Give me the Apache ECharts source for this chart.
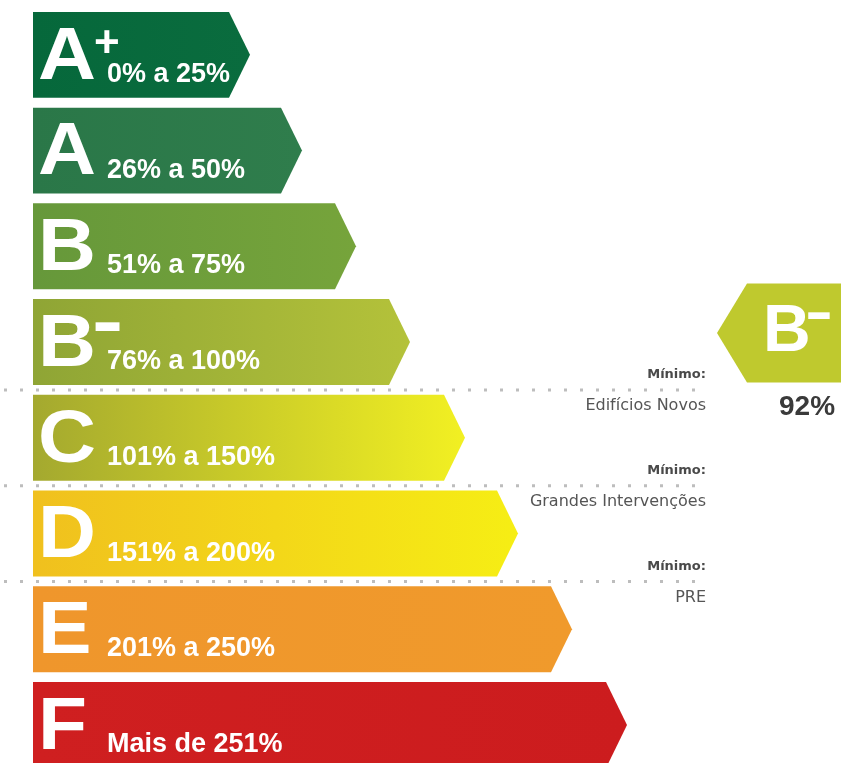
<!DOCTYPE html>
<html>
<head>
<meta charset="utf-8">
<script src="https://cdn.jsdelivr.net/npm/echarts@6/dist/echarts.min.js"></script>
<style>html,body{margin:0;padding:0;background:#fff;}#c{width:841px;height:763px;}</style>
</head>
<body>
<div id="c"></div>
<script>
// ---- data ----
const ratings = ['A+', 'A', 'B', 'B-', 'C', 'D', 'E', 'F'];
const ranges = ['0% a 25%', '26% a 50%', '51% a 75%', '76% a 100%', '101% a 150%', '151% a 200%', '201% a 250%', 'Mais de 251%'];
const barLength = [217, 269, 323, 377, 432, 485, 539, 594];
const minimumRatings = ['B-', 'C', 'D'];
const minimumTitles = ['Mínimo:', 'Mínimo:', 'Mínimo:'];
const minimumNames = ['Edifícios Novos', 'Grandes Intervenções', 'PRE'];
const resultRating = 'B-';
const resultValue = 92;

// ---- styles ----
const barColors = [
  ['#06683b', '#0a6c3e'],
  ['#2a7748', '#2f7d4c'],
  ['#66983a', '#76a43b'],
  ['#8fa535', '#b4c23a'],
  ['#a4a92f', '#f2f022'],
  ['#f0c01e', '#f6ee14'],
  ['#ef962c', '#f09a2c'],
  ['#cf1f20', '#cc1c1e']
];
const FONT = '"Liberation Sans", Arial, sans-serif';
const FONT2 = '"DejaVu Sans", sans-serif';
const BAR_START = 33;
const TIP = 21;

const chart = echarts.init(document.getElementById('c'), null, {renderer: 'canvas'});

function renderBar(params, api) {
  const ci = api.value(0);
  const len = api.value(1);
  const i = params.dataIndex;
  const cy = api.coord([0, ci])[1];
  const band = Math.abs(api.size([0, 1])[1]);
  const h = band * 0.898;
  const x0 = api.coord([BAR_START, ci])[0];
  const xt = api.coord([BAR_START + len, ci])[0];
  const top = cy - h / 2, bot = cy + h / 2;
  const r = ratings[i];
  const base = r.replace(/[+-]/, '');
  const sup = r.length > 1 ? r.slice(1) : '';
  const children = [{
    type: 'polygon',
    shape: {points: [[x0, top], [xt - TIP, top], [xt, cy], [xt - TIP, bot], [x0, bot]]},
    style: {fill: new echarts.graphic.LinearGradient(0, 0, 1, 0, [
      {offset: 0, color: barColors[i][0]}, {offset: 1, color: barColors[i][1]}])}
  }, {
    type: 'text', x: x0 + 5, y: top + 46, scaleX: 1.07, originX: 0, originY: 0,
    style: {text: base, x: 0, y: 0, fill: '#fff', font: 'bold 75px ' + FONT, verticalAlign: 'middle', align: 'left'}
  }, {
    type: 'text',
    style: {text: ranges[i], x: x0 + 74, y: top + 62.5, fill: '#fff', font: 'bold 27px ' + FONT, verticalAlign: 'middle', align: 'left'}
  }];
  if (sup === '+') {
    children.push({type: 'text', style: {text: '+', x: x0 + 61, y: top + 33, fill: '#fff', font: 'bold 44px ' + FONT, verticalAlign: 'middle', align: 'left'}});
  } else if (sup === '-') {
    children.push({type: 'text', x: x0 + 59, y: top + 26, scaleX: 1.3, originX: 0, originY: 0,
      style: {text: '-', x: 0, y: 0, fill: '#fff', font: 'bold 72px ' + FONT, verticalAlign: 'middle', align: 'left'}});
  }
  return {type: 'group', children: children};
}

function renderMinimum(params, api) {
  const ci = api.value(0);
  const i = params.dataIndex;
  const cy = api.coord([0, ci])[1];
  const band = Math.abs(api.size([0, 1])[1]);
  const ly = cy + band / 2;
  const xEnd = api.coord([706, ci])[0];
  const xBeg = api.coord([0, ci])[0];
  return {type: 'group', children: [{
    type: 'line',
    shape: {x1: xBeg + 4, y1: ly, x2: xEnd, y2: ly},
    style: {stroke: '#bdbdbd', lineWidth: 3, lineDash: [3, 13]}
  }, {
    type: 'text',
    style: {text: minimumTitles[i], x: xEnd, y: ly - 15, fill: '#4a4a4a', font: 'bold 13px ' + FONT2, align: 'right', verticalAlign: 'middle'}
  }, {
    type: 'text',
    style: {text: minimumNames[i], x: xEnd, y: ly + 16, fill: '#555', font: '16px ' + FONT2, align: 'right', verticalAlign: 'middle'}
  }]};
}

function renderResult(params, api) {
  const ci = api.value(0);
  const val = api.value(1);
  const cy = api.coord([0, ci])[1] - 9;
  const xt = api.coord([717, ci])[0];
  const h = 99;
  const r = resultRating;
  return {type: 'group', children: [{
    type: 'polygon',
    shape: {points: [[xt, cy], [xt + 30, cy - h / 2], [xt + 140, cy - h / 2], [xt + 140, cy + h / 2], [xt + 30, cy + h / 2]]},
    style: {fill: '#bfc92e'}
  }, {
    type: 'text',
    style: {text: r.replace(/[+-]/, ''), x: xt + 46, y: cy, fill: '#fff', font: 'bold 66px ' + FONT, align: 'left', verticalAlign: 'middle'}
  }, {
    type: 'text', x: xt + 88, y: cy - 19, scaleX: 1.5, originX: 0, originY: 0,
    style: {text: '-', x: 0, y: 0, fill: '#fff', font: 'bold 56px ' + FONT, align: 'left', verticalAlign: 'middle'}
  }, {
    type: 'text',
    style: {text: val + '%', x: xt + 62, y: cy + 74, fill: '#3a3a3a', font: 'bold 28px ' + FONT, align: 'left', verticalAlign: 'middle'}
  }]};
}

const idx = r => ratings.indexOf(r);

chart.setOption({
  animation: false,
  backgroundColor: '#fff',
  grid: {left: 0, right: 0, top: 7, bottom: 0},
  xAxis: {type: 'value', min: 0, max: 841, show: false},
  yAxis: {type: 'value', min: -0.5, max: 7.396, inverse: true, show: false},
  series: [{
    type: 'custom',
    renderItem: renderBar,
    encode: {x: 1, y: 0},
    data: ratings.map((r, i) => [idx(r), barLength[i]]),
    clip: false
  }, {
    type: 'custom',
    renderItem: renderMinimum,
    encode: {x: 1, y: 0},
    data: minimumRatings.map(r => [idx(r), 0]),
    clip: false
  }, {
    type: 'custom',
    renderItem: renderResult,
    encode: {x: 1, y: 0},
    data: [[idx(resultRating), resultValue]],
    clip: false
  }]
});
</script>
</body>
</html>
